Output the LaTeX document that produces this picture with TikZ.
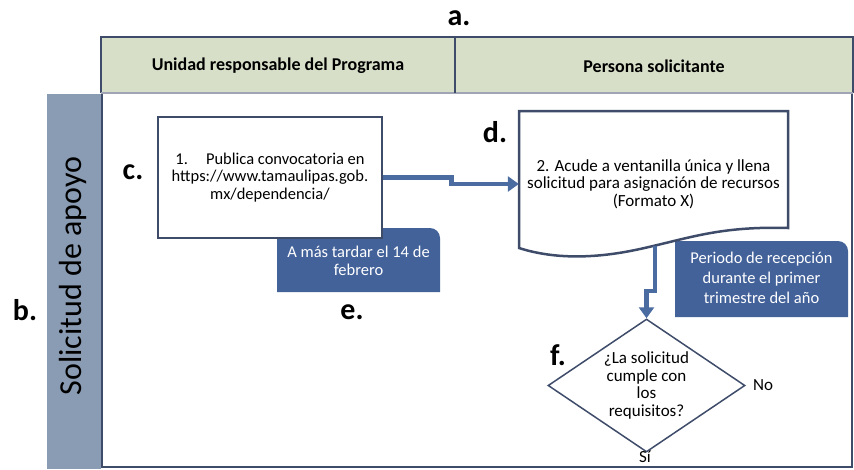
\documentclass[tikz,border=0pt]{standalone}
\usepackage{fontspec}
\setmainfont{Carlito}
\usetikzlibrary{arrows.meta,shapes.geometric,positioning}
\definecolor{borde}{HTML}{3E4C6A}
\definecolor{cabecera}{HTML}{D7DFC9}
\definecolor{franja}{HTML}{8A9CB3}
\definecolor{azulnota}{HTML}{43629A}
\definecolor{azulflecha}{HTML}{4A6CA0}
\tikzset{
  caja/.style={draw=borde, line width=2.5pt, fill=white},
  texto/.style={font=\fontsize{17}{17.7}\selectfont, align=center, inner sep=0pt},
  nota/.style={text=white, font=\fontsize{16.5}{18}\selectfont, align=center, inner sep=0pt},
  titulo/.style={font=\fontsize{18}{20}\selectfont\bfseries, inner sep=0pt},
  letra/.style={font=\fontsize{30}{30}\selectfont\bfseries, inner sep=0pt},
  flecha/.style={draw=azulflecha, line width=4.5pt, -{Triangle[length=11pt,width=15pt]}},
}

\begin{document}
\begin{tikzpicture}[x=1pt, y=-1pt]
  \useasboundingbox (0,0) rectangle (854,469);
  % encabezado
  \fill[cabecera] (101,37) rectangle (853,93);
  \draw[borde, line width=2.5pt] (101,93) |- (853,37) -- (853,93);
  \draw[borde!50, line width=1.5pt] (101,93) -- (853,93);
  \draw[borde, line width=1.5pt] (455,37) -- (455,93);
  \node[titulo] (unidad) at (278,66) {Unidad responsable del Programa};
  \node[titulo] (persona) at (654,66) {Persona solicitante};
  % franja
  \fill[franja] (47,94) rectangle (101,469);
  \node[rotate=90, font=\fontsize{32}{32}\selectfont, inner sep=0pt] (etapa) at (73,276) {Solicitud de apoyo};
  % cuerpo
  \draw[borde, line width=2.5pt] (102,94) |- (852,467) -- (852,94);
  % notas
  \fill[azulnota] (277,292) -- (277,228) -- (430,228) arc[start angle=-90, end angle=0, radius=10] -- (440,292) -- cycle;
  \node[nota] (plazo) at (358.5,261) {A más tardar el 14 de\\febrero};
  \fill[azulnota] (675,317) -- (675,241) -- (838,241) arc[start angle=-90, end angle=0, radius=10] -- (848,317) -- cycle;
  \node[nota, font=\fontsize{16.5}{20}\selectfont] (periodo) at (761.5,278) {Periodo de recepción\\durante el primer\\trimestre del año};
  % pasos
  \node[caja, texto, font=\fontsize{16.5}{17.3}\selectfont, minimum width=224pt, minimum height=121pt] (pub) at (270,177.5)
    {1.\hspace{1.1em}Publica convocatoria en\\https://www.tamaulipas.gob.\\mx/dependencia/};
  \draw[caja] (519,111) -- (788,111) -- (788,228)
    .. controls (720,226) and (690,238) .. (640,249)
    .. controls (590,260) and (550,258) .. (519,248) -- cycle;
  \node[texto, minimum width=269pt, minimum height=146pt] (sol) at (653.5,184)
    {2. Acude a ventanilla única y llena\\solicitud para asignación de recursos\\(Formato X)};
  \node[diamond, draw=borde, line width=1.5pt, fill=white, aspect=1.48,
    minimum width=197pt, minimum height=133pt, texto] (req) at (646.5,385.5)
    {¿La solicitud\\cumple con\\los\\requisitos?};
  \node[texto] (no) at (763,385) {No};
  \node[texto] (si) at (645,457) {Sí};
  % flechas
  \draw[flecha] (pub.east) -- ++(68,0) |- (sol.west);
  \draw[flecha] ([shift={(1.5,-11)}]sol.south) -- ++(0,45) -| (req.north);
  % letras
  \node[letra] (la) at (459,18) {a.};
  \node[letra] (lb) at (25,310) {b.};
  \node[letra] (lc) at (133,172) {c.};
  \node[letra] (ld) at (495,132) {d.};
  \node[letra] (le) at (352,312) {e.};
  \node[letra] (lf) at (558,355) {f.};
\end{tikzpicture}
\end{document}
